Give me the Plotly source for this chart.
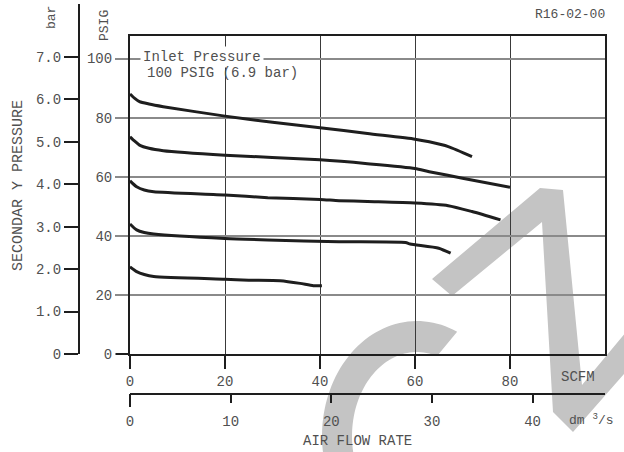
import numpy as np
import plotly.graph_objects as go

# ---------------- data ----------------
curve1_scfm = [0, 1, 2, 4, 7, 20, 30, 40, 50, 60, 63, 67, 72]
curve1_psig = [88, 86.5, 85.4, 84.6, 83.7, 80.5, 78.4, 76.6, 74.6, 72.7, 71.8, 70.2, 66.8]

curve2_scfm = [0, 1, 2, 4, 7, 20, 40, 50, 60, 63, 70, 80]
curve2_psig = [73.5, 72, 70.7, 69.6, 68.8, 67.3, 65.7, 64.4, 62.8, 61.7, 59.5, 56.4]

curve3_scfm = [0, 1.4, 3, 5, 20, 29, 40, 44, 50, 60, 67, 72, 78]
curve3_psig = [58.6, 56.6, 55.5, 54.9, 53.8, 52.9, 52.3, 51.9, 51.6, 51.1, 50.2, 48.2, 45.4]

curve4_scfm = [0, 1.4, 3, 5, 20, 29, 44, 58, 59, 65, 67.5]
curve4_psig = [44, 42, 41.1, 40.6, 39.1, 38.6, 38.0, 37.7, 37.2, 35.8, 34.1]

curve5_scfm = [0, 1.4, 3, 5, 20, 25, 31.6, 35.8, 38.6, 40.4]
curve5_psig = [29.5, 27.9, 26.9, 26.2, 25.3, 25.0, 24.8, 23.9, 23.1, 23.1]

scfm_ticks = [0, 20, 40, 60, 80]
psig_ticks = [0, 20, 40, 60, 80, 100]
bar_ticks = [0, 1, 2, 3, 4, 5, 6, 7]
bar_labels = ["0", "1.0", "2.0", "3.0", "4.0", "5.0", "6.0", "7.0"]
dm3s_ticks = [0, 10, 20, 30, 40]

SCFM_PER_DM3S = 2.11888
PSI_PER_BAR = 14.36

# ---------------- layout helpers ----------------
W, H = 624, 452
def px(x):
    return x / W
def py(y):
    return 1 - y / H

FONT = "Liberation Mono, Courier New, monospace"
TXT = "#505050"
DARK = "#1e1e1e"

fig = go.Figure()

curves = [(curve1_scfm, curve1_psig), (curve2_scfm, curve2_psig),
          (curve3_scfm, curve3_psig), (curve4_scfm, curve4_psig),
          (curve5_scfm, curve5_psig)]
for cx, cy in curves:
    fig.add_trace(go.Scatter(x=cx, y=cy, mode="lines",
                             line=dict(color=DARK, width=3, shape="spline", smoothing=0.6),
                             showlegend=False, hoverinfo="skip"))

# invisible helper traces so the extra axes are drawn
fig.add_trace(go.Scatter(x=[0], y=[0], xaxis="x2", yaxis="y", mode="markers",
                         marker=dict(opacity=0), showlegend=False, hoverinfo="skip"))
fig.add_trace(go.Scatter(x=[0], y=[0], xaxis="x", yaxis="y2", mode="markers",
                         marker=dict(opacity=0), showlegend=False, hoverinfo="skip"))

x_dom = [px(130), px(605)]
y_dom = [py(354), py(36)]
psig_top = (354 - 36) / 2.955
bar_top = psig_top / PSI_PER_BAR

tickfont = dict(family=FONT, size=14, color=TXT)

fig.update_layout(
    width=W, height=H, autosize=False,
    margin=dict(l=0, r=0, t=0, b=0, pad=0, autoexpand=False),
    paper_bgcolor="white", plot_bgcolor="rgba(0,0,0,0)",
    font=dict(family=FONT, color=TXT),
    xaxis=dict(domain=x_dom, range=[0, 100], tickvals=scfm_ticks,
               ticks="outside", ticklen=13, tickwidth=1.5, tickcolor=DARK,
               showgrid=True, gridcolor="#3a3a3a", gridwidth=1,
               showline=True, mirror=True, linecolor=DARK, linewidth=2,
               zeroline=False, tickfont=tickfont, anchor="y", automargin=False),
    yaxis=dict(domain=y_dom, range=[0, psig_top], tickvals=psig_ticks,
               ticks="outside", ticklen=13, tickwidth=1.5, tickcolor="#8a8a8a",
               showgrid=True, gridcolor="#8a8a8a", gridwidth=1.5,
               showline=True, mirror=True, linecolor=DARK, linewidth=2,
               zeroline=False, tickfont=tickfont, anchor="x", automargin=False),
    xaxis2=dict(overlaying="x", anchor="free", position=1 - 394 / H, side="bottom",
                range=[0, 100 / SCFM_PER_DM3S], tickvals=dm3s_ticks,
                ticks="outside", ticklen=8, tickwidth=1.5, tickcolor=DARK,
                showline=True, linecolor=DARK, linewidth=2, showgrid=False,
                zeroline=False, tickfont=tickfont, ticklabelstandoff=6, automargin=False),
    yaxis2=dict(overlaying="y", anchor="free", position=px(79), side="left",
                range=[0, bar_top], tickvals=bar_ticks, ticktext=bar_labels,
                ticks="outside", ticklen=14, tickwidth=1.5, tickcolor=DARK,
                showline=True, linecolor=DARK, linewidth=2, showgrid=False,
                zeroline=False, tickfont=tickfont, automargin=False),
)

shapes = []
# dark tick at PSIG 0
shapes.append(dict(type="line", xref="paper", yref="paper",
                   x0=px(116), x1=px(130), y0=py(354), y1=py(354),
                   line=dict(color=DARK, width=2)))
# extension of bar axis line to the top
shapes.append(dict(type="line", xref="paper", yref="paper",
                   x0=px(79), x1=px(79), y0=py(36), y1=py(4),
                   line=dict(color=DARK, width=2)))
# longer 0 tick of dm3/s axis
shapes.append(dict(type="line", xref="paper", yref="paper",
                   x0=px(130), x1=px(130), y0=py(394), y1=py(407),
                   line=dict(color=DARK, width=2)))

# ---------------- watermark (decoration) ----------------
WM = "#c4c4c4"
cxp, cyp = 417, 436
a_out = np.radians(np.linspace(65, 215, 60))
a_in = np.radians(np.linspace(215, 72, 60))
pts = [(cxp + 95 * np.cos(a), cyp - 115 * np.sin(a)) for a in a_out]
pts += [(cxp + 65 * np.cos(a), cyp - 84 * np.sin(a)) for a in a_in]
path = "M " + " L ".join(f"{px(x):.5f},{py(y):.5f}" for x, y in pts) + " Z"
shapes.append(dict(type="path", xref="paper", yref="paper", path=path,
                   fillcolor=WM, line=dict(width=0), layer="below"))

poly = [(432, 279), (540, 188), (563, 190), (582, 385), (632, 325), (632, 365),
        (573, 432), (553, 412), (542, 222), (452, 296)]
path2 = "M " + " L ".join(f"{px(x):.5f},{py(y):.5f}" for x, y in poly) + " Z"
shapes.append(dict(type="path", xref="paper", yref="paper", path=path2,
                   fillcolor=WM, line=dict(width=0), layer="below"))

fig.update_layout(shapes=shapes)

# ---------------- text ----------------
def ann(text, x, y, size=14, xanchor="center", yanchor="middle", angle=0, **kw):
    fig.add_annotation(text=text, x=px(x), y=py(y), xref="paper", yref="paper",
                       showarrow=False, xanchor=xanchor, yanchor=yanchor,
                       textangle=angle, font=dict(family=FONT, size=size, color=TXT), **kw)

ann("R16-02-00", 607, 14, size=13, xanchor="right")
ann("Inlet Pressure", 140, 57, size=14, xanchor="left", bgcolor="white", borderpad=2)
ann("100 PSIG (6.9 bar)", 145, 73, size=14, xanchor="left")
ann("SCFM", 578, 377, size=14)
ann("dm <sup>3</sup>/s", 567, 419, size=13, xanchor="left")
ann("AIR FLOW RATE", 357, 441, size=14)
ann("SECONDAR Y PRESSURE", 18, 186, size=15, angle=-90)
ann("bar", 52, 18, size=13, angle=-90)
ann("PSIG", 105, 26, size=13, angle=-90)

fig.write_html("out.html", config={"displayModeBar": False},
               post_script="document.body.style.margin='0';document.body.style.overflow='hidden';")
